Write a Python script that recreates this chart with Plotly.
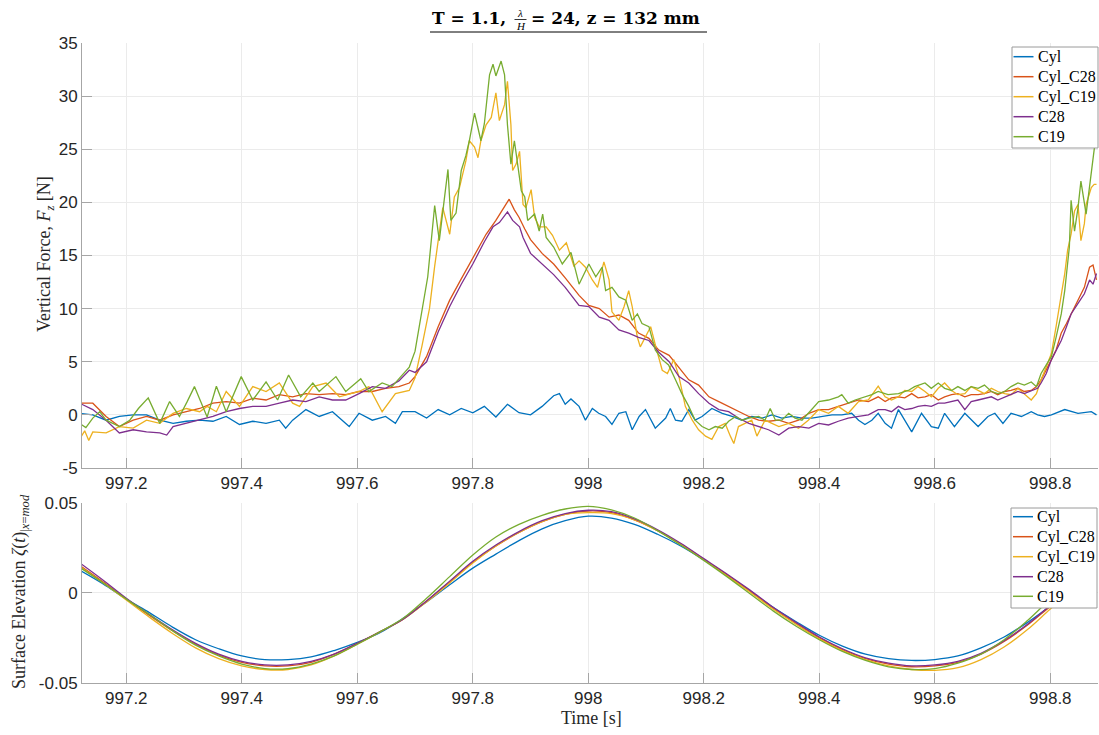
import plotly.graph_objects as go

# ---------------------------------------------------------------------------
# Vertical force F_z [N] samples: (time [s], force [N])
# ---------------------------------------------------------------------------
CYL = [
    (997.119, 0.15), (997.142, 0.0), (997.165, -0.5), (997.188, -0.15), (997.212, 0.0),
    (997.235, 0.0), (997.258, -0.5), (997.281, -0.8), (997.304, -0.6), (997.327, -0.5),
    (997.350, -0.6), (997.373, -0.15), (997.396, -0.9), (997.419, -0.6), (997.442, -0.8),
    (997.465, -0.5), (997.476, -1.25), (997.488, -0.5), (997.511, 0.5), (997.534, -0.15),
    (997.557, 0.3), (997.586, -1.1), (997.603, 0.15), (997.626, -0.5), (997.649, -0.15),
    (997.666, -0.8), (997.678, 0.3), (997.700, 0.3), (997.720, -0.3), (997.740, 0.5),
    (997.760, 0.0), (997.780, 0.6), (997.800, 0.2), (997.820, 0.8), (997.840, -0.2),
    (997.860, 1.0), (997.880, 0.2), (997.900, 0.0), (997.920, 0.8), (997.940, 1.8),
    (997.950, 2.0), (997.960, 1.0), (997.970, 1.5), (997.984, 0.8), (997.995, -0.5),
    (998.007, 0.6), (998.018, 0.15), (998.030, -0.15), (998.041, -0.9), (998.053, 0.15),
    (998.065, 0.3), (998.076, -1.4), (998.088, -0.15), (998.099, 0.5), (998.116, -1.25),
    (998.134, -0.3), (998.142, 0.6), (998.151, -0.5), (998.162, -0.6), (998.174, 0.5),
    (998.185, -0.5), (998.197, -0.15), (998.214, 0.6), (998.232, 0.15), (998.249, -0.15),
    (998.266, -0.5), (998.283, -0.15), (998.301, -0.3), (998.318, 0.0), (998.335, -0.3),
    (998.353, -0.15), (998.370, -0.3), (998.387, -0.3), (998.404, -0.15), (998.422, 0.0),
    (998.439, 0.0), (998.456, 0.15), (998.468, -0.5), (998.479, -0.9), (998.491, -0.5),
    (998.502, 0.15), (998.514, -0.8), (998.525, -1.25), (998.537, 0.5), (998.548, -0.5),
    (998.560, -1.6), (998.577, 0.15), (998.594, -1.1), (998.606, -1.25), (998.617, 0.15),
    (998.634, -1.1), (998.652, 0.15), (998.675, -1.1), (998.692, -0.15), (998.704, 0.15),
    (998.718, -0.8), (998.732, 0.15), (998.750, -0.15), (998.767, 0.3), (998.778, 0.0),
    (998.790, -0.15), (998.802, 0.0), (998.825, 0.5), (998.848, 0.15), (998.871, 0.3),
    (998.880, 0.0),
]

CYL_C28 = [
    (997.119, 1.1), (997.142, 1.1), (997.165, -0.15), (997.188, -1.1), (997.212, -0.5),
    (997.235, -0.15), (997.258, -0.5), (997.281, 0.0), (997.304, 0.3), (997.327, 0.6),
    (997.350, 1.1), (997.373, 1.25), (997.396, 1.1), (997.419, 1.56), (997.442, 1.4),
    (997.465, 1.9), (997.488, 1.7), (997.511, 2.0), (997.534, 1.9), (997.557, 2.0),
    (997.580, 1.9), (997.603, 2.2), (997.626, 2.2), (997.649, 2.5), (997.672, 2.66),
    (997.690, 3.0), (997.700, 3.6), (997.720, 5.5), (997.740, 8.3), (997.760, 10.8),
    (997.780, 12.8), (997.800, 14.8), (997.823, 17.0), (997.840, 18.3), (997.852, 19.3),
    (997.863, 20.3), (997.872, 19.3), (997.880, 18.6), (997.890, 17.5), (997.900, 16.5),
    (997.920, 15.2), (997.940, 14.2), (997.960, 12.9), (997.984, 11.25), (998.001, 10.3),
    (998.019, 10.0), (998.036, 9.2), (998.053, 9.4), (998.070, 8.9), (998.087, 7.7),
    (998.105, 7.2), (998.122, 6.1), (998.140, 5.6), (998.157, 4.5), (998.174, 3.3),
    (998.191, 2.8), (998.209, 1.7), (998.226, 1.25), (998.243, 0.8), (998.260, 0.3),
    (998.278, -0.15), (998.295, -0.5), (998.312, -0.6), (998.330, -0.5), (998.347, -0.8),
    (998.364, -0.5), (998.382, 0.15), (998.399, 0.5), (998.416, 0.5), (998.433, 0.8),
    (998.450, 1.1), (998.468, 1.4), (998.485, 1.25), (998.502, 1.7), (998.514, 1.25),
    (998.525, 1.6), (998.537, 1.7), (998.548, 1.6), (998.560, 2.0), (998.571, 1.6),
    (998.583, 1.7), (998.594, 1.9), (998.606, 1.4), (998.617, 1.7), (998.629, 1.9),
    (998.640, 2.0), (998.652, 1.7), (998.663, 1.9), (998.675, 1.9), (998.686, 2.0),
    (998.698, 2.2), (998.709, 1.9), (998.721, 2.2), (998.732, 2.3), (998.744, 2.5),
    (998.755, 2.2), (998.767, 2.3), (998.776, 2.66), (998.784, 3.3), (998.793, 4.2),
    (998.802, 5.2), (998.810, 6.1), (998.819, 7.7), (998.828, 8.6), (998.836, 9.5),
    (998.848, 10.8), (998.859, 12.0), (998.868, 13.9), (998.874, 14.1), (998.880, 12.7),
]

CYL_C19 = [
    (997.119, -2.3), (997.128, -1.5), (997.135, -2.4), (997.142, -1.6), (997.165, -1.7),
    (997.188, -1.1), (997.212, -1.25), (997.235, -0.5), (997.258, -0.8), (997.281, 0.15),
    (997.304, 0.6), (997.327, 0.3), (997.340, 0.8), (997.356, 0.3), (997.373, 2.2),
    (997.396, 0.8), (997.419, 2.66), (997.442, 2.2), (997.465, 3.0), (997.488, 1.1),
    (997.500, 0.8), (997.523, 2.66), (997.546, 3.0), (997.569, 1.7), (997.603, 2.2),
    (997.620, 2.66), (997.643, 0.3), (997.666, 2.0), (997.690, 2.3), (997.700, 3.5),
    (997.712, 6.5), (997.725, 10.0), (997.734, 14.0), (997.748, 19.5), (997.760, 17.0),
    (997.768, 20.5), (997.777, 21.4), (997.788, 23.9), (997.794, 25.8), (997.803, 25.2),
    (997.809, 24.2), (997.814, 25.8), (997.823, 27.3), (997.832, 28.0), (997.840, 30.3),
    (997.846, 27.7), (997.855, 29.2), (997.860, 31.4), (997.866, 27.3), (997.869, 23.0),
    (997.875, 23.6), (997.881, 24.8), (997.887, 19.8), (997.892, 19.5), (997.901, 21.2),
    (997.907, 18.6), (997.915, 17.7), (997.927, 17.7), (997.938, 16.9), (997.950, 15.5),
    (997.962, 16.2), (997.975, 14.0), (997.984, 14.5), (997.995, 13.9), (998.007, 12.7),
    (998.016, 12.0), (998.027, 14.4), (998.036, 12.7), (998.041, 9.7), (998.053, 8.9),
    (998.062, 10.2), (998.070, 11.7), (998.076, 10.2), (998.085, 7.3), (998.090, 6.4),
    (998.099, 7.3), (998.108, 8.3), (998.116, 6.6), (998.128, 4.2), (998.137, 3.9),
    (998.148, 5.2), (998.157, 3.6), (998.168, 0.8), (998.180, -0.5), (998.191, -1.4),
    (998.203, -2.0), (998.214, -2.3), (998.226, -1.1), (998.237, -0.8), (998.246, -2.0),
    (998.252, -2.7), (998.260, -1.1), (998.272, -0.8), (998.283, -0.5), (998.292, -2.0),
    (998.306, -0.5), (998.318, -0.8), (998.330, -1.1), (998.347, -0.8), (998.364, -1.25),
    (998.381, -0.5), (998.399, 0.5), (998.416, 0.15), (998.433, 0.8), (998.450, 0.15),
    (998.468, 1.25), (998.485, 1.4), (998.502, 2.7), (998.514, 1.7), (998.525, 1.4),
    (998.537, 1.7), (998.548, 2.3), (998.560, 2.2), (998.571, 2.66), (998.583, 2.2),
    (998.594, 1.7), (998.606, 2.5), (998.617, 3.0), (998.629, 2.3), (998.640, 1.9),
    (998.652, 2.0), (998.663, 2.66), (998.675, 2.3), (998.686, 2.0), (998.698, 2.5),
    (998.709, 2.2), (998.721, 2.0), (998.732, 1.9), (998.744, 2.5), (998.755, 2.0),
    (998.767, 1.4), (998.776, 2.0), (998.784, 3.3), (998.793, 4.5), (998.802, 5.8),
    (998.810, 8.3), (998.819, 11.4), (998.825, 13.3), (998.830, 15.5), (998.836, 17.0),
    (998.842, 19.2), (998.848, 19.8), (998.853, 16.4), (998.859, 18.0), (998.862, 19.8),
    (998.871, 21.4), (998.876, 21.7), (998.880, 21.7),
]

C28 = [
    (997.119, 1.1), (997.142, 0.5), (997.165, -0.5), (997.188, -1.7), (997.212, -1.4),
    (997.235, -1.6), (997.258, -1.7), (997.270, -1.9), (997.281, -1.1), (997.304, -0.8),
    (997.327, -0.5), (997.350, -0.15), (997.373, 0.3), (997.396, 0.6), (997.419, 0.8),
    (997.442, 0.8), (997.465, 1.1), (997.488, 1.4), (997.511, 1.25), (997.534, 1.7),
    (997.557, 1.4), (997.580, 1.4), (997.603, 2.0), (997.626, 2.66), (997.649, 2.5),
    (997.672, 3.2), (997.690, 4.2), (997.700, 4.0), (997.720, 5.0), (997.740, 7.8),
    (997.760, 10.2), (997.780, 12.3), (997.800, 14.2), (997.820, 16.3), (997.835, 17.7),
    (997.846, 18.1), (997.860, 19.1), (997.869, 18.3), (997.881, 17.7), (997.887, 16.7),
    (997.900, 15.2), (997.920, 14.2), (997.940, 13.2), (997.960, 12.0), (997.984, 10.3),
    (998.001, 10.2), (998.019, 9.2), (998.036, 8.9), (998.053, 8.0), (998.070, 7.7),
    (998.087, 7.3), (998.105, 7.0), (998.122, 5.9), (998.140, 5.0), (998.157, 3.6),
    (998.174, 3.0), (998.191, 2.0), (998.209, 1.1), (998.226, 0.5), (998.243, 0.3),
    (998.260, -0.3), (998.278, -0.8), (998.295, -1.1), (998.312, -1.4), (998.330, -1.9),
    (998.347, -1.25), (998.364, -1.1), (998.382, -1.25), (998.399, -0.8), (998.416, -0.95),
    (998.433, -0.6), (998.450, -0.3), (998.468, -0.15), (998.485, 0.0), (998.502, 0.5),
    (998.514, 0.5), (998.525, 0.3), (998.537, 0.8), (998.548, 0.5), (998.560, 0.6),
    (998.571, 0.8), (998.583, 0.9), (998.594, 0.8), (998.606, 1.1), (998.617, 1.1),
    (998.629, 1.25), (998.640, 1.4), (998.652, 0.5), (998.663, 1.25), (998.675, 1.4),
    (998.686, 1.56), (998.698, 1.7), (998.709, 1.4), (998.721, 1.7), (998.732, 1.9),
    (998.744, 2.2), (998.755, 2.0), (998.767, 2.3), (998.778, 2.5), (998.784, 3.0),
    (998.793, 3.9), (998.802, 5.2), (998.810, 6.1), (998.819, 7.0), (998.828, 8.3),
    (998.836, 9.5), (998.848, 10.5), (998.859, 11.4), (998.868, 12.7), (998.874, 12.3),
    (998.880, 13.3),
]

C19 = [
    (997.119, -0.8), (997.130, -1.2), (997.142, -0.3), (997.154, 0.3), (997.165, -0.5),
    (997.188, -1.1), (997.206, -0.5), (997.221, 0.6), (997.238, 1.6), (997.252, -0.2),
    (997.258, -0.8), (997.275, 1.25), (997.292, -0.15), (997.305, 1.2), (997.318, 2.66),
    (997.340, -0.2), (997.356, 2.7), (997.373, 0.3), (997.385, 1.8), (997.399, 3.6),
    (997.419, 1.4), (997.442, 3.1), (997.462, 1.4), (997.481, 3.75), (997.502, 1.7),
    (997.523, 3.0), (997.534, 2.2), (997.563, 3.6), (997.580, 2.2), (997.606, 3.4),
    (997.620, 2.2), (997.643, 3.0), (997.660, 2.66), (997.690, 4.5), (997.700, 6.0),
    (997.712, 10.0), (997.722, 13.0), (997.734, 19.7), (997.742, 16.4), (997.750, 20.0),
    (997.757, 23.1), (997.762, 18.3), (997.771, 19.0), (997.780, 23.0), (997.788, 24.4),
    (997.794, 25.8), (997.803, 28.4), (997.809, 27.0), (997.814, 25.8), (997.820, 27.4),
    (997.829, 32.0), (997.835, 33.0), (997.840, 31.9), (997.849, 33.3), (997.855, 32.0),
    (997.860, 27.3), (997.866, 23.6), (997.872, 25.8), (997.878, 23.3), (997.884, 21.1),
    (997.890, 20.5), (997.895, 18.3), (997.907, 18.9), (997.915, 17.3), (997.921, 18.9),
    (997.927, 16.7), (997.940, 15.8), (997.955, 14.2), (997.970, 15.3), (997.984, 12.3),
    (998.001, 14.2), (998.013, 13.0), (998.024, 13.9), (998.030, 11.7), (998.041, 12.0),
    (998.053, 11.1), (998.065, 10.8), (998.076, 8.9), (998.085, 9.5), (998.093, 8.6),
    (998.105, 8.3), (998.116, 6.1), (998.128, 5.2), (998.139, 4.7), (998.151, 3.3),
    (998.162, 2.0), (998.174, 0.8), (998.185, -0.5), (998.197, -1.1), (998.209, -1.4),
    (998.220, -1.1), (998.232, -1.25), (998.243, -0.6), (998.255, -0.15), (998.266, -0.5),
    (998.278, -0.3), (998.295, -0.15), (998.306, -0.5), (998.315, 0.6), (998.324, -0.5),
    (998.335, -0.5), (998.347, 0.15), (998.358, -0.3), (998.370, -0.5), (998.381, 0.15),
    (998.399, 1.25), (998.416, 1.4), (998.433, 1.7), (998.439, 1.9), (998.450, 1.1),
    (998.462, 1.4), (998.479, 1.7), (998.491, 1.9), (998.502, 2.2), (998.519, 1.9),
    (998.537, 2.0), (998.554, 2.3), (998.565, 2.66), (998.583, 3.0), (998.594, 2.5),
    (998.606, 3.0), (998.617, 2.5), (998.629, 2.3), (998.640, 2.66), (998.652, 2.3),
    (998.663, 2.66), (998.675, 2.5), (998.686, 2.8), (998.698, 2.2), (998.709, 2.0),
    (998.721, 2.2), (998.732, 2.66), (998.744, 3.0), (998.755, 2.8), (998.767, 3.1),
    (998.776, 2.66), (998.784, 3.9), (998.793, 4.7), (998.802, 5.5), (998.810, 7.3),
    (998.819, 9.5), (998.825, 11.7), (998.833, 15.8), (998.836, 20.2), (998.842, 17.3),
    (998.848, 19.5), (998.853, 22.0), (998.862, 18.9), (998.871, 22.7), (998.876, 24.8),
    (998.880, 26.7),
]

# ---------------------------------------------------------------------------
# Surface elevation zeta(t) at the model position [m]
# ---------------------------------------------------------------------------
T_ETA = [
    997.12, 997.16, 997.20, 997.24, 997.28, 997.32, 997.36, 997.40, 997.44, 997.48,
    997.52, 997.56, 997.60, 997.64, 997.68, 997.72, 997.76, 997.80, 997.84, 997.88,
    997.92, 997.96, 998.00, 998.04, 998.08, 998.12, 998.16, 998.20, 998.24, 998.28,
    998.32, 998.36, 998.40, 998.44, 998.48, 998.52, 998.56, 998.60, 998.64, 998.68,
    998.72, 998.76, 998.80, 998.84, 998.88,
]
ETA_CYL = [
    0.0125, 0.0050, -0.0035, -0.0110, -0.0190, -0.0260, -0.0310, -0.0350, -0.0370, -0.0370,
    -0.0355, -0.0320, -0.0275, -0.0220, -0.0140, -0.0050, 0.0045, 0.0137, 0.0215, 0.0290,
    0.0355, 0.0400, 0.0425, 0.0415, 0.0380, 0.0325, 0.0260, 0.0183, 0.0100, 0.0010,
    -0.0080, -0.0160, -0.0235, -0.0295, -0.0340, -0.0365, -0.0375, -0.0370, -0.0350, -0.0305,
    -0.0245, -0.0165, -0.0074, 0.0015, 0.0080,
]
ETA_CYL_C28 = [
    0.0150, 0.0060, -0.0035, -0.0125, -0.0210, -0.0285, -0.0345, -0.0385, -0.0405, -0.0405,
    -0.0385, -0.0340, -0.0280, -0.0215, -0.0145, -0.0045, 0.0060, 0.0170, 0.0260, 0.0335,
    0.0395, 0.0435, 0.0454, 0.0445, 0.0405, 0.0345, 0.0270, 0.0185, 0.0100, 0.0010,
    -0.0085, -0.0170, -0.0250, -0.0315, -0.0365, -0.0395, -0.0410, -0.0405, -0.0385, -0.0340,
    -0.0270, -0.0180, -0.0075, 0.0025, 0.0105,
]
ETA_CYL_C19 = [
    0.0145, 0.0055, -0.0040, -0.0135, -0.0225, -0.0305, -0.0365, -0.0405, -0.0425, -0.0425,
    -0.0400, -0.0350, -0.0285, -0.0215, -0.0145, -0.0050, 0.0055, 0.0165, 0.0260, 0.0335,
    0.0395, 0.0435, 0.0445, 0.0440, 0.0405, 0.0345, 0.0270, 0.0185, 0.0095, 0.0005,
    -0.0090, -0.0175, -0.0255, -0.0320, -0.0370, -0.0405, -0.0425, -0.0430, -0.0415, -0.0370,
    -0.0300, -0.0205, -0.0090, 0.0020, 0.0100,
]
ETA_C28 = [
    0.0165, 0.0070, -0.0030, -0.0120, -0.0205, -0.0280, -0.0340, -0.0380, -0.0400, -0.0400,
    -0.0380, -0.0340, -0.0280, -0.0215, -0.0145, -0.0045, 0.0065, 0.0175, 0.0265, 0.0340,
    0.0400, 0.0440, 0.0458, 0.0450, 0.0410, 0.0350, 0.0275, 0.0190, 0.0105, 0.0015,
    -0.0080, -0.0165, -0.0245, -0.0310, -0.0360, -0.0390, -0.0405, -0.0400, -0.0380, -0.0335,
    -0.0265, -0.0175, -0.0070, 0.0030, 0.0110,
]
ETA_C19 = [
    0.0140, 0.0055, -0.0035, -0.0120, -0.0210, -0.0290, -0.0350, -0.0395, -0.0420, -0.0420,
    -0.0395, -0.0350, -0.0285, -0.0215, -0.0140, -0.0030, 0.0090, 0.0210, 0.0310, 0.0380,
    0.0430, 0.0465, 0.0480, 0.0460, 0.0415, 0.0345, 0.0265, 0.0180, 0.0090, -0.0005,
    -0.0100, -0.0185, -0.0260, -0.0325, -0.0375, -0.0410, -0.0425, -0.0420, -0.0390, -0.0340,
    -0.0260, -0.0155, -0.0037, 0.0060, 0.0130,
]

NAMES = ["Cyl", "Cyl_C28", "Cyl_C19", "C28", "C19"]
COLORS = ["#0072BD", "#D95319", "#EDB120", "#7E2F8E", "#77AC30"]
FORCE = [CYL, CYL_C28, CYL_C19, C28, C19]
ETA = [ETA_CYL, ETA_CYL_C28, ETA_CYL_C19, ETA_C28, ETA_C19]

X_TICKS = [997.2, 997.4, 997.6, 997.8, 998.0, 998.2, 998.4, 998.6, 998.8]
X_LABELS = ["997.2", "997.4", "997.6", "997.8", "998", "998.2", "998.4", "998.6", "998.8"]
F_TICKS = [-5, 0, 5, 10, 15, 20, 25, 30, 35]
F_LABELS = ["-5", "0", "5", "10", "15", "20", "25", "30", "35"]
Z_TICKS = [-0.05, 0, 0.05]
Z_LABELS = ["-0.05", "0", "0.05"]

SERIF = "Liberation Serif"
TITLE_SERIF = "DejaVu Serif"
SANS = "Liberation Sans"
AXIS_GREY = "#a6a6a6"
GRID_GREY = "#ebebeb"
TEXT = "#262626"

# Figure geometry (pixels) used to place the hand-drawn legends and title
W, H = 1099, 735
ML, MR, MT, MB = 82, 1, 43, 52
PW, PH = W - ML - MR, H - MT - MB


def px(x):
    return (x - ML) / PW


def py(y):
    return (H - MB - y) / PH


fig = go.Figure()

for name, color, pts in zip(NAMES, COLORS, FORCE):
    fig.add_trace(go.Scatter(
        x=[p[0] for p in pts], y=[p[1] for p in pts], mode="lines", name=name,
        line=dict(color=color, width=1.3), xaxis="x", yaxis="y", showlegend=False,
    ))

for name, color, vals in zip(NAMES, COLORS, ETA):
    fig.add_trace(go.Scatter(
        x=T_ETA, y=vals, mode="lines", name=name, line_shape="spline",
        line=dict(color=color, width=1.3), xaxis="x2", yaxis="y2", showlegend=False,
    ))

X_RANGE = [997.1233, 998.8826]


def x_axis(anchor):
    return dict(
        domain=[0, 1], anchor=anchor, range=X_RANGE, tickmode="array",
        tickvals=X_TICKS, ticktext=X_LABELS, ticks="inside", ticklen=10,
        tickcolor=AXIS_GREY, showline=True, linecolor=AXIS_GREY, linewidth=1,
        showgrid=True, gridcolor=GRID_GREY, gridwidth=1, zeroline=False,
        tickfont=dict(family=SANS, size=17, color=TEXT),
    )


def y_axis(anchor, domain, rng, vals, labels):
    return dict(
        domain=domain, anchor=anchor, range=rng, tickmode="array",
        tickvals=vals, ticktext=labels, ticks="inside", ticklen=10,
        tickcolor=AXIS_GREY, showline=True, linecolor=AXIS_GREY, linewidth=1,
        showgrid=True, gridcolor=GRID_GREY, gridwidth=1, zeroline=False,
        tickfont=dict(family=SANS, size=17, color=TEXT),
    )


fig.update_layout(
    width=W, height=H,
    margin=dict(l=ML, r=MR, t=MT, b=MB),
    paper_bgcolor="white", plot_bgcolor="white",
    xaxis=x_axis("y"),
    yaxis=y_axis("x", [py(468), 1.0], [-5, 35], F_TICKS, F_LABELS),
    xaxis2=x_axis("y2"),
    yaxis2=y_axis("x2", [0.0, py(502.7)], [-0.05, 0.05], Z_TICKS, Z_LABELS),
    showlegend=False,
)


def draw_legend(box, rows, line_x, text_x):
    """Boxed legend: box=(x0, y0, x1, y1) and row centres in pixels."""
    x0, y0, x1, y1 = box
    fig.add_shape(type="rect", xref="paper", yref="paper",
                  x0=px(x0), x1=px(x1), y0=py(y1), y1=py(y0),
                  fillcolor="white", line=dict(color="#9a9a9a", width=1), layer="above")
    for name, color, yr in zip(NAMES, COLORS, rows):
        fig.add_shape(type="line", xref="paper", yref="paper",
                      x0=px(line_x[0]), x1=px(line_x[1]), y0=py(yr), y1=py(yr),
                      line=dict(color=color, width=1.5), layer="above")
        fig.add_annotation(text=name, xref="paper", yref="paper", x=px(text_x), y=py(yr),
                           xanchor="left", yanchor="middle", showarrow=False,
                           font=dict(family=SERIF, size=16, color="#000000"))


draw_legend((1012, 47, 1098, 148), [56.7, 76.7, 96.7, 116.7, 136.7], (1013.5, 1033.5), 1035.5)
draw_legend((1011, 508, 1097, 608), [516.7, 536.7, 556.7, 576.7, 596.3], (1013, 1033), 1035)

# Axis labels
fig.add_annotation(
    text="Vertical Force, <i>F<sub>z</sub></i> [N]", xref="paper", yref="paper",
    x=px(45), y=py(254), textangle=-90, showarrow=False, xanchor="center", yanchor="middle",
    font=dict(family=SERIF, size=18, color=TEXT),
)
fig.add_annotation(
    text="Surface Elevation <i>ζ</i>(<i>t</i>)<sub>|<i>x</i>=<i>mod</i></sub>",
    xref="paper", yref="paper", x=px(20), y=py(592), textangle=-90, showarrow=False,
    xanchor="center", yanchor="middle", font=dict(family=SERIF, size=18, color=TEXT),
)
fig.add_annotation(
    text="Time [s]", xref="paper", yref="paper", x=px(591), y=py(718), showarrow=False,
    xanchor="center", yanchor="middle", font=dict(family=SERIF, size=18, color=TEXT),
)

# Title: T = 1.1, lambda/H = 24, z = 132 mm (underlined)
fig.add_annotation(
    text="<b>T = 1.1,</b>", xref="paper", yref="paper", x=px(430), y=py(18),
    showarrow=False, xanchor="left", yanchor="middle",
    font=dict(family=TITLE_SERIF, size=17, color="#000000"),
)
fig.add_annotation(
    text="<i>λ</i>", xref="paper", yref="paper", x=px(520), y=py(12.5),
    showarrow=False, xanchor="center", yanchor="middle",
    font=dict(family=SERIF, size=11, color="#000000"),
)
fig.add_annotation(
    text="<i>H</i>", xref="paper", yref="paper", x=px(520.5), y=py(26),
    showarrow=False, xanchor="center", yanchor="middle",
    font=dict(family=SERIF, size=11, color="#000000"),
)
fig.add_annotation(
    text="<b>= 24, z = 132 mm</b>", xref="paper", yref="paper", x=px(529), y=py(18),
    showarrow=False, xanchor="left", yanchor="middle",
    font=dict(family=TITLE_SERIF, size=17, color="#000000"),
)
fig.add_shape(type="line", xref="paper", yref="paper",
              x0=px(514.5), x1=px(526.5), y0=py(19.5), y1=py(19.5),
              line=dict(color="#000000", width=0.8))
fig.add_shape(type="line", xref="paper", yref="paper",
              x0=px(430), x1=px(707), y0=py(32), y1=py(32),
              line=dict(color="#000000", width=1))

fig.write_html("out.html", config={"displayModeBar": False})
